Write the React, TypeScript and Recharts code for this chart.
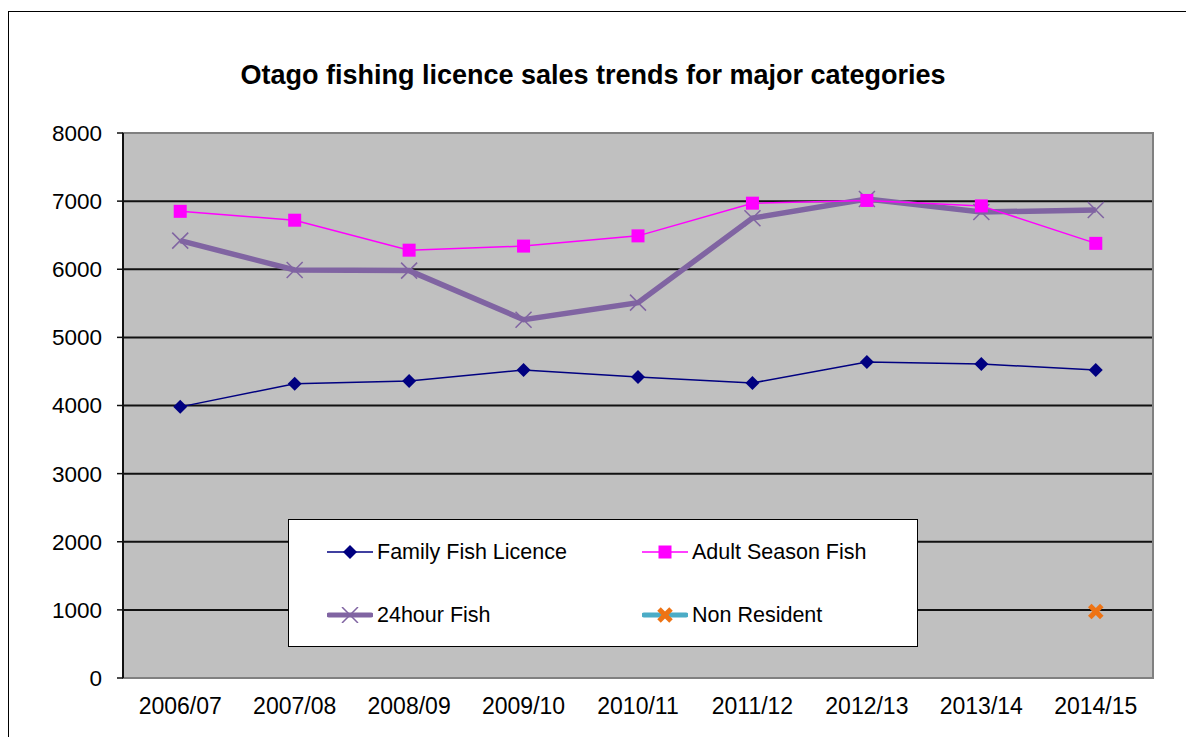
import React from 'react'
import { LineChart, Line, XAxis, YAxis, CartesianGrid, ReferenceArea } from 'recharts'

// Otago licence sales
const SEASONS = ['2006/07', '2007/08', '2008/09', '2009/10', '2010/11', '2011/12', '2012/13', '2013/14', '2014/15']
const FAMILY = [3980, 4320, 4360, 4520, 4420, 4330, 4640, 4610, 4520]
const ADULT = [6850, 6720, 6280, 6340, 6490, 6970, 7010, 6930, 6380]
const HOUR24 = [6420, 5990, 5980, 5260, 5510, 6750, 7030, 6840, 6870]
const NON_RESIDENT = [null, null, null, null, null, null, null, null, 975]
const Y_TICKS = [0, 1000, 2000, 3000, 4000, 5000, 6000, 7000, 8000]
const GRID_VALUES = [1000, 2000, 3000, 4000, 5000, 6000, 7000]

// categories sit in the middle of each slot, tick marks on the slot edges (Excel style)
const LABEL_TICKS = SEASONS.map((_, i) => i + 0.5)
const EDGE_TICKS = [...SEASONS.map((_, i) => i), SEASONS.length]

const data = SEASONS.map((season, i) => ({
  pos: i + 0.5,
  season,
  family: FAMILY[i],
  adult: ADULT[i],
  hour24: HOUR24[i],
  nonResident: NON_RESIDENT[i],
}))

const FONT = '"Liberation Sans", Arial, sans-serif'
const NAVY = '#000080'
const MAGENTA = '#FF00FF'
const PURPLE = '#8064A2'
const TEAL = '#4BACC6'
const ORANGE = '#EE7314'

const Diamond = ({ cx, cy }: any) =>
  cx == null || cy == null ? null : (
    <polygon points={`${cx},${cy - 7} ${cx + 7},${cy} ${cx},${cy + 7} ${cx - 7},${cy}`} fill={NAVY} />
  )

const Square = ({ cx, cy }: any) =>
  cx == null || cy == null ? null : <rect x={cx - 6.5} y={cy - 6.5} width={13} height={13} fill={MAGENTA} />

const Cross = ({ cx, cy }: any) =>
  cx == null || cy == null ? null : (
    <g stroke={PURPLE} strokeWidth={1.5}>
      <line x1={cx - 8} y1={cy - 8} x2={cx + 8} y2={cy + 8} />
      <line x1={cx - 8} y1={cy + 8} x2={cx + 8} y2={cy - 8} />
    </g>
  )

const BoldCross = ({ cx, cy }: any) =>
  cx == null || cy == null ? null : (
    <g stroke={ORANGE} strokeWidth={5}>
      <line x1={cx - 6} y1={cy - 6} x2={cx + 6} y2={cy + 6} />
      <line x1={cx - 6} y1={cy + 6} x2={cx + 6} y2={cy - 6} />
    </g>
  )

function LegendIcon({ kind }: { kind: string }) {
  return (
    <svg width={46} height={16} style={{ display: 'block' }}>
      {kind === 'family' && (
        <>
          <line x1={0} y1={8} x2={46} y2={8} stroke={NAVY} strokeWidth={1.5} />
          <Diamond cx={23} cy={8} />
        </>
      )}
      {kind === 'adult' && (
        <>
          <line x1={0} y1={8} x2={46} y2={8} stroke={MAGENTA} strokeWidth={1.5} />
          <Square cx={23} cy={8} />
        </>
      )}
      {kind === 'hour24' && (
        <>
          <line x1={2} y1={8} x2={44} y2={8} stroke={PURPLE} strokeWidth={5} strokeLinecap="round" />
          <Cross cx={23} cy={8} />
        </>
      )}
      {kind === 'nonResident' && (
        <>
          <line x1={2} y1={8} x2={44} y2={8} stroke={TEAL} strokeWidth={5} strokeLinecap="round" />
          <BoldCross cx={23} cy={8} />
        </>
      )}
    </svg>
  )
}

const LEGEND = [
  { kind: 'family', label: 'Family Fish Licence' },
  { kind: 'adult', label: 'Adult Season Fish' },
  { kind: 'hour24', label: '24hour Fish' },
  { kind: 'nonResident', label: 'Non Resident' },
]

export default function App() {
  return (
    <div
      style={{
        position: 'relative',
        marginTop: 3,
        width: 1200,
        height: 740,
        borderTop: '1px solid #000',
        borderLeft: '1px solid #000',
        fontFamily: FONT,
        background: '#fff',
      }}
    >
      <style>{'html,body{overflow:hidden}'}</style>
      <div
        style={{
          position: 'absolute',
          left: 0,
          top: 48,
          width: 1168,
          textAlign: 'center',
          fontSize: 27,
          lineHeight: '30px',
          fontWeight: 'bold',
          color: '#000',
        }}
      >
        Otago fishing licence sales trends for major categories
      </div>
      <div style={{ position: 'absolute', left: 0, top: 0 }}>
        <LineChart width={1185} height={725} data={data} margin={{ top: 121, right: 41, left: 54, bottom: 29 }}>
          <CartesianGrid
            horizontal
            vertical={false}
            horizontalValues={GRID_VALUES}
            fill="#C0C0C0"
            fillOpacity={1}
            stroke="#111"
            strokeWidth={2}
          />
          <ReferenceArea
            xAxisId="edges"
            x1={0}
            x2={SEASONS.length}
            y1={0}
            y2={8000}
            fill="none"
            stroke="#808080"
            strokeWidth={2}
          />
          <XAxis
            xAxisId="edges"
            dataKey="pos"
            type="number"
            domain={[0, SEASONS.length]}
            ticks={EDGE_TICKS}
            tickFormatter={() => ''}
            height={0}
            tickSize={7}
            axisLine={{ stroke: '#111', strokeWidth: 2 }}
            tickLine={{ stroke: '#111', strokeWidth: 1.5 }}
          />
          <XAxis
            xAxisId="labels"
            dataKey="pos"
            type="number"
            domain={[0, SEASONS.length]}
            ticks={LABEL_TICKS}
            tickFormatter={(v: number) => SEASONS[Math.floor(v)]}
            height={30}
            tickSize={0}
            tickMargin={20}
            axisLine={false}
            tickLine={false}
            tick={{ fill: '#000', fontSize: 23, fontFamily: FONT }}
          />
          <YAxis
            domain={[0, 8000]}
            ticks={Y_TICKS}
            width={60}
            tickSize={6}
            tickMargin={15}
            axisLine={{ stroke: '#111', strokeWidth: 2 }}
            tickLine={{ stroke: '#111', strokeWidth: 1.5 }}
            tick={{ fill: '#000', fontSize: 22.5, fontFamily: FONT }}
          />
          <Line
            xAxisId="edges"
            dataKey="hour24"
            stroke={PURPLE}
            strokeWidth={5.5}
            dot={<Cross />}
            activeDot={false}
            isAnimationActive={false}
          />
          <Line
            xAxisId="edges"
            dataKey="adult"
            stroke={MAGENTA}
            strokeWidth={1.5}
            dot={<Square />}
            activeDot={false}
            isAnimationActive={false}
          />
          <Line
            xAxisId="edges"
            dataKey="family"
            stroke={NAVY}
            strokeWidth={1.5}
            dot={<Diamond />}
            activeDot={false}
            isAnimationActive={false}
          />
          <Line
            xAxisId="edges"
            dataKey="nonResident"
            stroke={TEAL}
            strokeWidth={5}
            dot={<BoldCross />}
            activeDot={false}
            isAnimationActive={false}
          />
        </LineChart>
      </div>
      <div
        style={{
          position: 'absolute',
          left: 279,
          top: 507,
          width: 628,
          height: 126,
          border: '1px solid #000',
          background: '#fff',
          display: 'grid',
          gridTemplateColumns: '315px 313px',
          gridTemplateRows: '64px 62px',
          fontSize: 21.5,
          color: '#000',
        }}
      >
        {LEGEND.map((item) => (
          <div key={item.kind} style={{ display: 'flex', alignItems: 'center', paddingLeft: 38, gap: 4 }}>
            <LegendIcon kind={item.kind} />
            <span>{item.label}</span>
          </div>
        ))}
      </div>
    </div>
  )
}
